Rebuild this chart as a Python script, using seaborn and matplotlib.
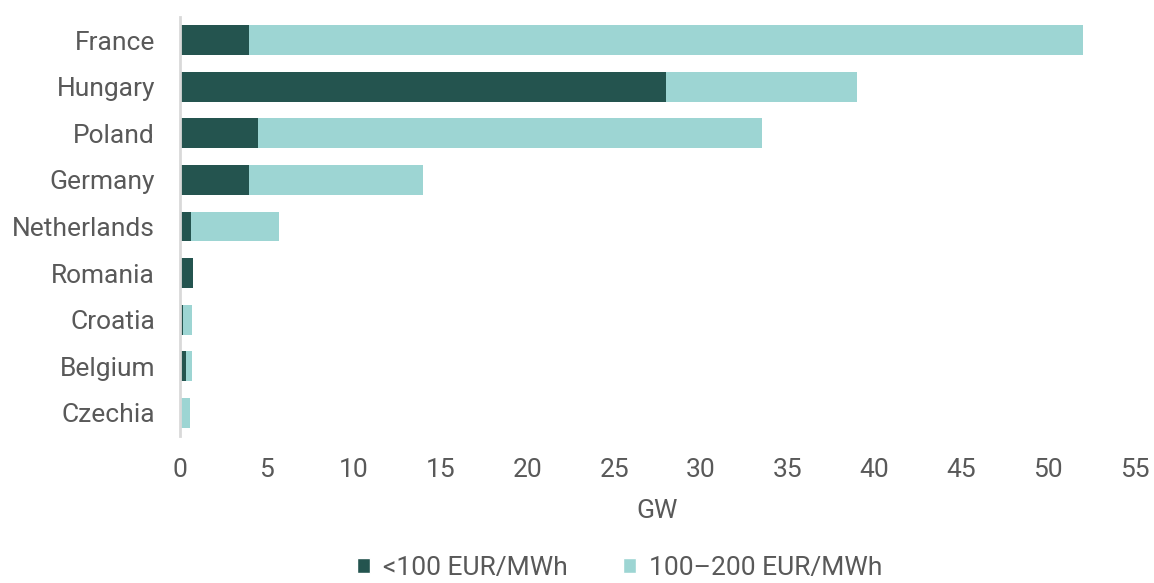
import matplotlib
matplotlib.use("Agg")
import matplotlib.pyplot as plt
import seaborn as sns
import pandas as pd
from matplotlib.patches import Patch

countries = ["France", "Hungary", "Poland", "Germany", "Netherlands",
             "Romania", "Croatia", "Belgium", "Czechia"]
below_100 = [4.0, 28.0, 4.5, 4.0, 0.65, 0.77, 0.17, 0.35, 0.0]
from_100_to_200 = [48.0, 11.0, 29.0, 10.0, 5.05, 0.0, 0.5, 0.32, 0.58]
xticks = list(range(0, 60, 5))

dark = "#24544f"
light = "#9dd5d3"
grey = "#595959"

sns.set_theme(style="white")
plt.rcParams["font.family"] = ["Roboto", "DejaVu Sans"]

df = pd.DataFrame({"country": countries, "low": below_100, "mid": from_100_to_200})
df["total"] = df["low"] + df["mid"]

fig = plt.figure(figsize=(11.54, 5.83), dpi=100)
ax = fig.add_axes([0.156, 0.252, 0.8275, 0.719])

sns.barplot(data=df, y="country", x="total", color=light, orient="h",
            width=0.64, saturation=1, linewidth=0, ax=ax)
sns.barplot(data=df, y="country", x="low", color=dark, orient="h",
            width=0.64, saturation=1, linewidth=0, ax=ax)

fs = 19
ax.set_xlim(0, 55)
ax.set_xticks(xticks)
ax.set_xticklabels([str(t) for t in xticks])
ax.set_xlabel("GW", fontsize=fs, color=grey, labelpad=12)
ax.set_ylabel("")
ax.tick_params(axis="x", labelsize=fs, colors=grey, length=0, pad=16)
ax.tick_params(axis="y", labelsize=fs, colors=grey, length=0, pad=18)
for s in ["top", "right", "bottom"]:
    ax.spines[s].set_visible(False)
ax.spines["left"].set_color("#d9d9d9")
ax.spines["left"].set_linewidth(2)
ax.grid(False)

handles = [Patch(facecolor=dark, label="<100 EUR/MWh"),
           Patch(facecolor=light, label="100\u2013200 EUR/MWh")]
leg = fig.legend(handles=handles, loc="lower center", ncol=2,
                 bbox_to_anchor=(0.537, -0.036), frameon=False, fontsize=fs,
                 handlelength=0.5, handleheight=0.5, columnspacing=2.1, handletextpad=0.5)
for t in leg.get_texts():
    t.set_color(grey)

fig.savefig("out.png", dpi=100)
